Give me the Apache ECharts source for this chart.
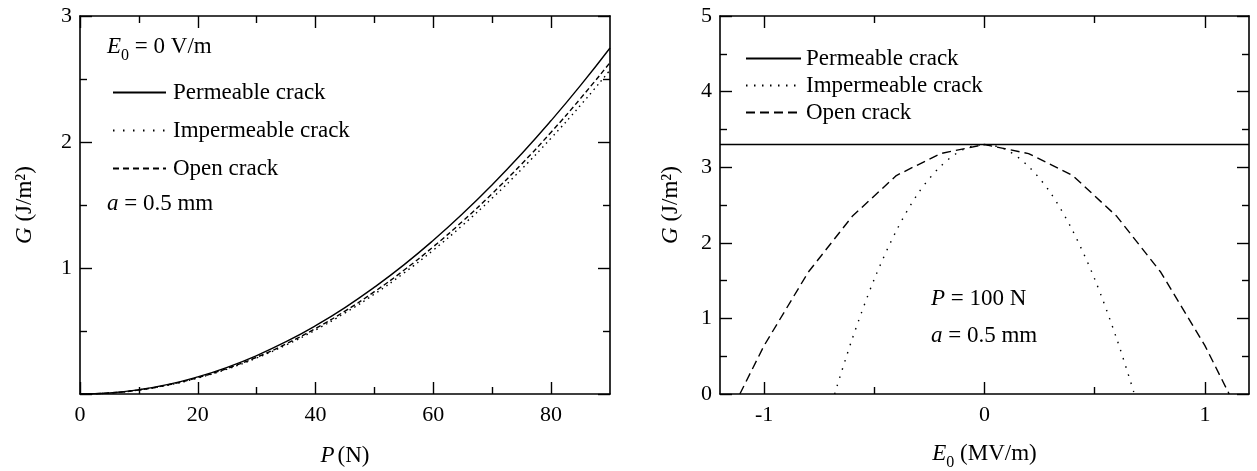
<!DOCTYPE html>
<html>
<head>
<meta charset="utf-8">
<script src="https://cdn.jsdelivr.net/npm/echarts@6/dist/echarts.min.js"></script>
<style>
  html, body { margin: 0; padding: 0; background: #fff; }
  #main { width: 1257px; height: 471px; }
</style>
</head>
<body>
<div id="main"></div>
<script>
// left panel: G vs P, E0 = 0
const pValues = [0, 5, 10, 15, 20, 25, 30, 35, 40, 45, 50, 55, 60, 65, 70, 75, 80, 85, 90]
const gPermeableP = [0, 0.0085, 0.034, 0.076, 0.136, 0.212, 0.305, 0.415, 0.542, 0.686, 0.848,
  1.025, 1.220, 1.432, 1.661, 1.907, 2.170, 2.449, 2.746]
const gImpermeableP = [0, 0.008, 0.032, 0.071, 0.127, 0.198, 0.286, 0.389, 0.508, 0.643, 0.793,
  0.960, 1.142, 1.341, 1.555, 1.785, 2.031, 2.292, 2.57]
const gOpenP = [0, 0.008, 0.032, 0.073, 0.130, 0.203, 0.292, 0.398, 0.520, 0.658, 0.812,
  0.982, 1.169, 1.372, 1.591, 1.826, 2.078, 2.346, 2.63]

// right panel: G vs E0, P = 100 N
const ePermeable = [-1.2, 1.2]
const gPermeableE = [3.3, 3.3]
const eImpermeable = [-0.68, -0.6, -0.5, -0.4, -0.3, -0.2, -0.1, 0, 0.1, 0.2, 0.3, 0.4, 0.5, 0.6, 0.68]
const gImpermeableE = [0, 0.73, 1.52, 2.16, 2.66, 3.01, 3.23, 3.30, 3.23, 3.01, 2.66, 2.16, 1.52, 0.73, 0]
const eOpen = [-1.11, -1, -0.8, -0.6, -0.4, -0.2, 0, 0.2, 0.4, 0.6, 0.8, 1, 1.11]
const gOpenE = [0, 0.64, 1.61, 2.35, 2.89, 3.18, 3.30, 3.18, 2.89, 2.35, 1.61, 0.64, 0]

// ticks
const pMajor = [0, 20, 40, 60, 80]
const pMinor = [10, 30, 50, 70]
const eMajor = [-1, 0, 1]
const eMinor = [-0.5, 0.5]

const seriesNames = ["Permeable crack", "Impermeable crack", "Open crack"]

const FONT = "Liberation Serif"
const INK = "#000"

function zip(xs, ys) {
  return xs.map((x, i) => [x, ys[i]])
}

// x axis helper: major ticks / labels from customValues
function xAxisOf(grid, min, max, pos, ticks, len, labels, extra) {
  return Object.assign({
    type: "value",
    gridIndex: grid,
    min: min,
    max: max,
    position: pos,
    axisLine: { show: len > 10, onZero: false, lineStyle: { color: INK, width: 1.6 } },
    axisTick: { show: true, inside: true, length: len, customValues: ticks, lineStyle: { color: INK, width: 1.4 } },
    axisLabel: labels
      ? { show: true, customValues: labels, color: INK, fontFamily: FONT, fontSize: 22, margin: 10 }
      : { show: false },
    splitLine: { show: false }
  }, extra || {})
}

function yAxisOf(grid, max, pos, showLabels, hideZero, extra) {
  return Object.assign({
    type: "value",
    gridIndex: grid,
    min: 0,
    max: max,
    interval: 1,
    position: pos,
    axisLine: { show: true, onZero: false, lineStyle: { color: INK, width: 1.6 } },
    axisTick: { show: true, inside: true, length: 12, lineStyle: { color: INK, width: 1.4 } },
    minorTick: { show: true, splitNumber: 2, length: 7, lineStyle: { color: INK, width: 1.4 } },
    axisLabel: {
      show: showLabels,
      color: INK,
      fontFamily: FONT,
      fontSize: 22,
      margin: 8,
      formatter: function (v) { return hideZero && v === 0 ? "" : String(v) }
    },
    splitLine: { show: false }
  }, extra || {})
}

const richText = {
  i: { fontStyle: "italic", fontFamily: FONT, fontSize: 23, color: INK },
  n: { fontFamily: FONT, fontSize: 23, color: INK },
  sub: { fontFamily: FONT, fontSize: 16, color: INK, verticalAlign: "bottom", padding: [0, 0, -6, 0] }
}

function label(x, y, rich) {
  return {
    type: "text",
    left: x,
    top: y,
    style: {
      text: rich,
      rich: richText,
      fill: INK,
      font: "23px " + FONT
    }
  }
}

function lineSeries(name, xi, yi, data, dash, smooth) {
  return {
    name: name, type: "line", xAxisIndex: xi, yAxisIndex: yi,
    data: data, smooth: smooth, symbol: "none",
    itemStyle: { color: INK },
    lineStyle: { color: INK, width: 1.4, type: dash }
  }
}

let myChart = echarts.init(document.getElementById("main"))
let option = {
  animation: false,
  backgroundColor: "#fff",
  textStyle: { fontFamily: FONT, color: INK },
  grid: [
    { left: 80, top: 16, width: 530, height: 378, outerBoundsMode: "none", containLabel: false },
    { left: 720, top: 16, width: 529, height: 378, outerBoundsMode: "none", containLabel: false }
  ],
  xAxis: [
    xAxisOf(0, 0, 90, "bottom", pMajor, 12, pMajor, {
      name: "{i|P} {n|(N)}",
      nameLocation: "middle",
      nameGap: 50,
      nameTextStyle: { rich: richText }
    }),
    xAxisOf(0, 0, 90, "top", pMajor, 12, null),
    xAxisOf(0, 0, 90, "bottom", pMinor, 7, null),
    xAxisOf(0, 0, 90, "top", pMinor, 7, null),
    xAxisOf(1, -1.2, 1.2, "bottom", eMajor, 12, eMajor, {
      name: "{i|E}{sub|0}{n| (MV/m)}",
      nameLocation: "middle",
      nameGap: 48,
      nameTextStyle: { rich: richText }
    }),
    xAxisOf(1, -1.2, 1.2, "top", eMajor, 12, null),
    xAxisOf(1, -1.2, 1.2, "bottom", eMinor, 7, null),
    xAxisOf(1, -1.2, 1.2, "top", eMinor, 7, null)
  ],
  yAxis: [
    yAxisOf(0, 3, "left", true, true, {
      name: "{i|G}{n| (J/m²)}",
      nameLocation: "middle",
      nameGap: 44,
      nameTextStyle: { rich: richText }
    }),
    yAxisOf(0, 3, "right", false, false),
    yAxisOf(1, 5, "left", true, false, {
      name: "{i|G}{n| (J/m²)}",
      nameLocation: "middle",
      nameGap: 38,
      nameTextStyle: { rich: richText }
    }),
    yAxisOf(1, 5, "right", false, false)
  ],
  legend: [
    {
      orient: "vertical",
      left: 107,
      top: 76,
      itemWidth: 53,
      itemHeight: 23,
      itemGap: 15,
      selectedMode: false,
      itemStyle: { opacity: 0 },
      textStyle: { fontFamily: FONT, fontSize: 23, color: INK, padding: [0, 0, 0, 2] },
      data: [
        { name: seriesNames[0], lineStyle: { type: "solid" } },
        { name: seriesNames[1], lineStyle: { type: [1.5, 8.5] } },
        { name: seriesNames[2], lineStyle: { type: [6, 4] } }
      ]
    },
    {
      orient: "vertical",
      left: 740,
      top: 42,
      itemWidth: 55,
      itemHeight: 23,
      itemGap: 4,
      selectedMode: false,
      itemStyle: { opacity: 0 },
      textStyle: { fontFamily: FONT, fontSize: 23, color: INK, padding: [0, 0, 0, 0] },
      data: [
        { name: seriesNames[0], lineStyle: { type: "solid" } },
        { name: seriesNames[1], lineStyle: { type: [1.5, 6.5] } },
        { name: seriesNames[2], lineStyle: { type: [9, 5] } }
      ]
    }
  ],
  graphic: [
    label(107, 35, "{i|E}{sub|0}{n| = 0 V/m}"),
    label(107, 192, "{i|a}{n| = 0.5 mm}"),
    label(931, 287, "{i|P}{n| = 100 N}"),
    label(931, 324, "{i|a}{n| = 0.5 mm}")
  ],
  series: [
    lineSeries(seriesNames[0], 0, 0, zip(pValues, gPermeableP), "solid", true),
    lineSeries(seriesNames[1], 0, 0, zip(pValues, gImpermeableP), [1.5, 4], true),
    lineSeries(seriesNames[2], 0, 0, zip(pValues, gOpenP), [5, 3], true),
    lineSeries(seriesNames[0], 4, 2, zip(ePermeable, gPermeableE), "solid", false),
    lineSeries(seriesNames[1], 4, 2, zip(eImpermeable, gImpermeableE), [1.5, 7], 0.3),
    lineSeries(seriesNames[2], 4, 2, zip(eOpen, gOpenE), [9, 5], false)
  ]
}
myChart.setOption(option)
</script>
</body>
</html>
